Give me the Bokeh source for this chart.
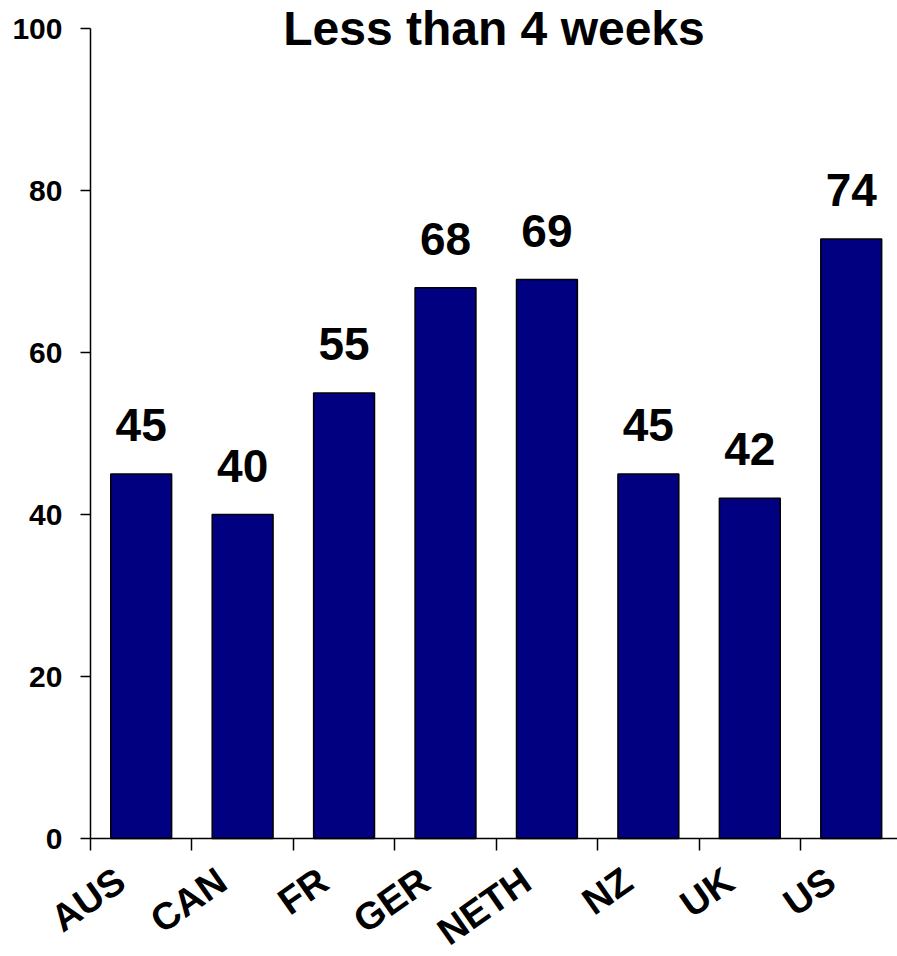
import numpy as np
from bokeh.plotting import figure
from bokeh.models import Range1d, FixedTicker, ColumnDataSource, Label
from bokeh.core.properties import value
from bokeh.embed import file_html
from bokeh.resources import INLINE

# Share answering "less than 4 weeks", by country (percent)
countries = ["AUS", "CAN", "FR", "GER", "NETH", "NZ", "UK", "US"]
values = [45, 40, 55, 68, 69, 45, 42, 74]
y_ticks = [0, 20, 40, 60, 80, 100]
title_text = "Less than 4 weeks"

FONT = "Liberation Sans"
n = len(countries)
centers = np.arange(n) + 0.5
X_END = 7.956

src = ColumnDataSource(dict(
    x=centers,
    top=values,
    label=[str(v) for v in values],
))

# the plotting area covers the whole canvas; both axes are pinned at 0 so
# the tick labels and slanted country names sit inside it
p = figure(
    width=897, height=956,
    x_range=Range1d(-0.887, X_END), y_range=Range1d(-14.568, 103.46),
    output_backend="svg", toolbar_location=None,
    min_border_left=0, min_border_right=0,
    min_border_top=0, min_border_bottom=0,
)
p.outline_line_color = None
p.grid.grid_line_color = None
p.background_fill_color = "white"
p.border_fill_color = "white"

p.vbar(x="x", top="top", width=0.6, bottom=0, source=src,
       fill_color="#000080", line_color="black", line_width=1.5)

p.text(x="x", y="top", text="label", source=src,
       text_font=value(FONT), text_font_style="bold", text_font_size="46px",
       text_align="center", text_baseline="alphabetic",
       y_offset=-49, text_color="black")

# y axis, drawn only from 0 to 100
yax = p.yaxis[0]
yax.fixed_location = 0
yax.bounds = (0, 100)
yax.ticker = FixedTicker(ticks=y_ticks)
yax.minor_tick_line_color = None
yax.major_tick_in = 0
yax.major_tick_out = 10
yax.major_tick_line_width = 1.5
yax.axis_line_width = 1.5
yax.major_label_standoff = 18
yax.major_label_text_font = FONT
yax.major_label_text_font_style = "bold"
yax.major_label_text_font_size = "30px"
yax.major_label_text_color = "black"

# x axis at y = 0: slanted labels, tick marks on the category boundaries
label_pos = centers - 0.2
xax = p.xaxis[0]
xax.fixed_location = 0
xax.bounds = (0, X_END)
xax.ticker = FixedTicker(ticks=list(label_pos), minor_ticks=list(range(n + 1)))
xax.major_label_overrides = {float(c): name for c, name in zip(label_pos, countries)}
xax.major_tick_line_color = None
xax.major_tick_out = 0
xax.major_tick_in = 0
xax.minor_tick_in = 0
xax.minor_tick_out = 12
xax.minor_tick_line_width = 1.5
xax.minor_tick_line_color = "black"
xax.axis_line_width = 1.5
xax.major_label_orientation = np.deg2rad(35)
xax.major_label_standoff = 26
xax.major_label_text_font = FONT
xax.major_label_text_font_style = "bold"
xax.major_label_text_font_size = "38px"
xax.major_label_text_color = "black"

p.add_layout(Label(
    x=X_END / 2, y=100, text=title_text,
    text_font=FONT, text_font_style="bold", text_font_size="48px",
    text_align="center", text_baseline="middle", text_color="black",
))

open("out.html", "w").write(file_html(p, INLINE))
